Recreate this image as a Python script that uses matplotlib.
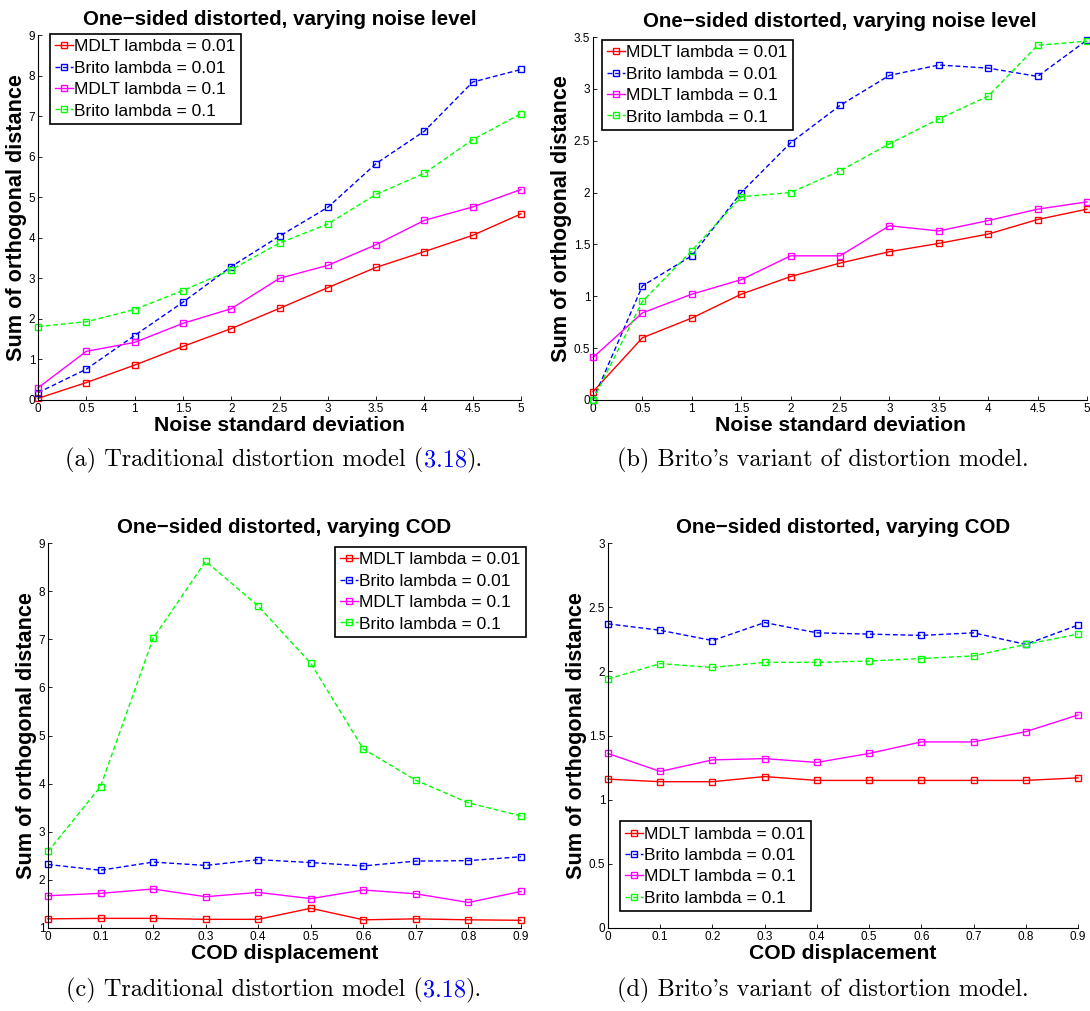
import matplotlib
matplotlib.use("Agg")
import matplotlib.pyplot as plt
import numpy as np

plt.rcParams['font.family'] = ['Liberation Sans', 'DejaVu Sans']

# ---------------- data ----------------
noise_x = [0, 0.5, 1, 1.5, 2, 2.5, 3, 3.5, 4, 4.5, 5]
noise_ticklabels = ['0', '0.5', '1', '1.5', '2', '2.5', '3', '3.5', '4', '4.5', '5']
cod_x = [0, 0.1, 0.2, 0.3, 0.4, 0.5, 0.6, 0.7, 0.8, 0.9]
cod_ticklabels = ['0', '0.1', '0.2', '0.3', '0.4', '0.5', '0.6', '0.7', '0.8', '0.9']

labels = ['MDLT lambda = 0.01', 'Brito lambda = 0.01', 'MDLT lambda = 0.1', 'Brito lambda = 0.1']

# (a) traditional model, varying noise
a_mdlt_001 = [0.04, 0.43, 0.86, 1.32, 1.76, 2.26, 2.77, 3.27, 3.66, 4.06, 4.59]
a_brito_001 = [0.18, 0.76, 1.59, 2.41, 3.29, 4.04, 4.75, 5.83, 6.63, 7.84, 8.15]
a_mdlt_01 = [0.30, 1.20, 1.42, 1.89, 2.25, 3.00, 3.32, 3.83, 4.43, 4.76, 5.19]
a_brito_01 = [1.81, 1.93, 2.23, 2.70, 3.21, 3.87, 4.34, 5.07, 5.59, 6.42, 7.06]

# (b) Brito's model, varying noise
b_mdlt_001 = [0.08, 0.60, 0.79, 1.02, 1.19, 1.32, 1.43, 1.51, 1.60, 1.74, 1.84]
b_brito_001 = [0.00, 1.10, 1.39, 2.00, 2.48, 2.84, 3.13, 3.23, 3.20, 3.12, 3.47]
b_mdlt_01 = [0.41, 0.84, 1.02, 1.16, 1.39, 1.39, 1.68, 1.63, 1.73, 1.84, 1.91]
b_brito_01 = [0.00, 0.95, 1.44, 1.96, 2.00, 2.21, 2.47, 2.71, 2.93, 3.42, 3.46]

# (c) traditional model, varying COD
c_mdlt_001 = [1.19, 1.20, 1.20, 1.18, 1.18, 1.41, 1.17, 1.19, 1.17, 1.16]
c_brito_001 = [2.32, 2.20, 2.37, 2.30, 2.42, 2.36, 2.29, 2.39, 2.40, 2.48]
c_mdlt_01 = [1.67, 1.72, 1.81, 1.65, 1.74, 1.61, 1.79, 1.71, 1.53, 1.76]
c_brito_01 = [2.59, 3.94, 7.02, 8.62, 7.69, 6.50, 4.72, 4.07, 3.60, 3.33]

# (d) Brito's model, varying COD
d_mdlt_001 = [1.16, 1.14, 1.14, 1.18, 1.15, 1.15, 1.15, 1.15, 1.15, 1.17]
d_brito_001 = [2.37, 2.32, 2.24, 2.38, 2.30, 2.29, 2.28, 2.30, 2.21, 2.36]
d_mdlt_01 = [1.36, 1.22, 1.31, 1.32, 1.29, 1.36, 1.45, 1.45, 1.53, 1.66]
d_brito_01 = [1.94, 2.06, 2.03, 2.07, 2.07, 2.08, 2.10, 2.12, 2.21, 2.29]

titles = ['One\u2212sided distorted, varying noise level',
          'One\u2212sided distorted, varying noise level',
          'One\u2212sided distorted, varying COD',
          'One\u2212sided distorted, varying COD']
xlabels = ['Noise standard deviation', 'Noise standard deviation',
           'COD displacement', 'COD displacement']
ylabel = 'Sum of orthogonal distance'

# ---------------- styling ----------------
colors = ['#ff0000', '#0000ff', '#ff00ff', '#00ff00']
styles = ['-', '--', '-', '--']

fig = plt.figure(figsize=(10.9, 10.11), dpi=100)

W, H = 1090.0, 1011.0
def rect(l, r, t, b):
    return [l / W, 1 - b / H, (r - l) / W, (b - t) / H]

axes = [
    fig.add_axes(rect(38, 521, 35, 400)),
    fig.add_axes(rect(593, 1087, 37, 400)),
    fig.add_axes(rect(48, 521, 543, 928)),
    fig.add_axes(rect(608, 1078, 543, 928)),
]

series = [
    (noise_x, [a_mdlt_001, a_brito_001, a_mdlt_01, a_brito_01]),
    (noise_x, [b_mdlt_001, b_brito_001, b_mdlt_01, b_brito_01]),
    (cod_x, [c_mdlt_001, c_brito_001, c_mdlt_01, c_brito_01]),
    (cod_x, [d_mdlt_001, d_brito_001, d_mdlt_01, d_brito_01]),
]
ylims = [(0, 9), (0, 3.5), (1, 9), (0, 3)]
yticks = [np.arange(0, 10, 1), np.arange(0, 3.51, 0.5), np.arange(1, 10, 1), np.arange(0, 3.01, 0.5)]
xticklabels = [noise_ticklabels, noise_ticklabels, cod_ticklabels, cod_ticklabels]

def fmt(v):
    return '%g' % v

# legend placement (pixels of box corner)
legend_specs = [
    dict(loc='upper left', bbox_to_anchor=(50 / W, 1 - 34 / H)),
    dict(loc='upper left', bbox_to_anchor=(602 / W, 1 - 40 / H)),
    dict(loc='upper right', bbox_to_anchor=(526 / W, 1 - 547 / H)),
    dict(loc='lower left', bbox_to_anchor=(620 / W, 1 - 911 / H)),
]

for i, ax in enumerate(axes):
    xs, ys_list = series[i]
    for j, ys in enumerate(ys_list):
        ax.plot(xs, ys, linestyle=styles[j], color=colors[j], lw=1.0,
                marker='s', markersize=5, markerfacecolor='none',
                markeredgecolor=colors[j], markeredgewidth=1.0,
                label=labels[j], dashes=(3.5, 2.0) if styles[j] == '--' else (None, None),
                clip_on=False)
    ax.set_xlim(xs[0], xs[-1])
    ax.set_ylim(*ylims[i])
    ax.set_xticks(xs)
    ax.set_xticklabels(xticklabels[i])
    ax.set_yticks(yticks[i])
    ax.set_yticklabels([fmt(v) for v in yticks[i]])
    ax.spines['top'].set_visible(False)
    ax.spines['right'].set_visible(False)
    ax.spines['left'].set_linewidth(0.8)
    ax.spines['bottom'].set_linewidth(0.8)
    ax.tick_params(direction='in', length=3, width=0.6, labelsize=8.5, pad=2)
    ax.set_title(titles[i], fontsize=14.8, fontweight='bold', pad=7)
    ax.set_xlabel(xlabels[i], fontsize=15.2, fontweight='bold', labelpad=1)
    ax.set_ylabel(ylabel, fontsize=15.6, fontweight='bold', labelpad=1)
    leg = ax.legend(fontsize=12.5, frameon=True, fancybox=False, framealpha=1,
                    edgecolor='black', handlelength=1.0, handletextpad=0.1,
                    borderpad=0.3, labelspacing=0.36, borderaxespad=0,
                    bbox_transform=fig.transFigure,
                    **legend_specs[i])
    leg.get_frame().set_linewidth(1.2)

# ---------------- captions ----------------
captions = [
    (274, 460, ['(a) Traditional distortion model (', '3.18', ').']),
    (823, 460, ['(b) Brito\'s variant of distortion model.']),
    (274, 990, ['(c) Traditional distortion model (', '3.18', ').']),
    (823, 990, ['(d) Brito\'s variant of distortion model.']),
]
cap_font = dict(family='cmr10', size=17.5)
renderer = fig.canvas.get_renderer()
for cx, cy, parts in captions:
    texts = []
    for k, p in enumerate(parts):
        col = 'blue' if p == '3.18' else 'black'
        t = fig.text(0, 1 - cy / H, p, color=col, ha='left', va='center', **cap_font)
        texts.append(t)
    widths = [t.get_window_extent(renderer).width for t in texts]
    total = sum(widths)
    left = cx - total / 2.0
    for t, w in zip(texts, widths):
        t.set_x(left / W)
        left += w

fig.savefig('out.png', dpi=100)
